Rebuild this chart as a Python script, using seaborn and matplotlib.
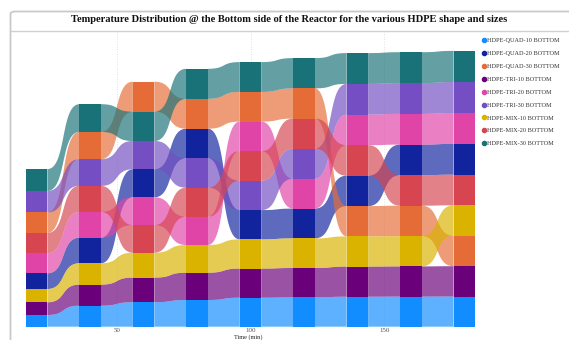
import numpy as np
import matplotlib
matplotlib.use("Agg")
import matplotlib.pyplot as plt
from matplotlib.patches import FancyBboxPatch
from matplotlib.lines import Line2D
import seaborn as sns

# Bottom-side reactor temperature (°C) sampled every 20 minutes
time_min = [20, 40, 60, 80, 100, 120, 140, 160, 180]

series_names = [
    "HDPE-QUAD-10 BOTTOM", "HDPE-QUAD-20 BOTTOM", "HDPE-QUAD-30 BOTTOM",
    "HDPE-TRI-10 BOTTOM", "HDPE-TRI-20 BOTTOM", "HDPE-TRI-30 BOTTOM",
    "HDPE-MIX-10 BOTTOM", "HDPE-MIX-20 BOTTOM", "HDPE-MIX-30 BOTTOM",
]
quad_10 = [117, 210, 245, 267, 290, 293, 300, 301, 302]
quad_20 = [157, 256, 280, 296, 293, 298, 304, 306, 308]
quad_30 = [206, 273, 300, 299, 297, 302, 303, 304, 304]
tri_10 = [127, 211, 246, 273, 291, 294, 301, 302, 303]
tri_20 = [200, 258, 278, 283, 296, 299, 306, 307, 309]
tri_30 = [215, 267, 283, 294, 294, 300, 307, 308, 310]
mix_10 = [133, 213, 249, 277, 292, 296, 302, 303, 305]
mix_20 = [203, 260, 276, 290, 295, 301, 305, 305, 306]
mix_30 = [218, 277, 293, 300, 298, 303, 308, 309, 311]

x_ticks = [50, 100, 150]

colors = ["#118DFF", "#12239E", "#E66C37", "#6B007B", "#E044A7",
          "#744EC2", "#D9B300", "#D64550", "#197278"]

sns.set_theme(style="white")
plt.rcParams["font.family"] = ["Liberation Serif", "DejaVu Serif"]

W, H = 569, 340
fig = plt.figure(figsize=(W / 100, H / 100), dpi=100)


def fx(px):
    return px / W


def fy(py):
    return 1 - py / H


# outer card and title separator
card = FancyBboxPatch((fx(10.5), fy(400)), fx(600), fy(11.5) - fy(400),
                      boxstyle="round,pad=0,rounding_size=0.008",
                      transform=fig.transFigure, facecolor="none",
                      edgecolor="#c9c9c9", linewidth=1.3, zorder=-1)
fig.patches.append(card)
fig.add_artist(Line2D([fx(11), fx(569)], [fy(31), fy(31)],
                      transform=fig.transFigure, color="#d0d0d0", lw=1.0))

fig.text(fx(289), fy(19.5),
         "Temperature Distribution @ the Bottom side of the Reactor for the various HDPE shape and sizes",
         ha="center", va="center", fontsize=7.6, fontweight="bold", color="#111111")

ax = fig.add_axes([fx(26), fy(326.7), fx(475) - fx(26), fy(31) - fy(326.7)])
ax.set_facecolor("none")

values = np.array([quad_10, quad_20, quad_30, tri_10, tri_20,
                   tri_30, mix_10, mix_20, mix_30], dtype=float)
t = np.array(time_min, dtype=float)
n_series, n_time = values.shape

# stack each column in ascending order: smallest at the bottom
bottoms = np.zeros_like(values)
for j in range(n_time):
    order = np.argsort(values[:, j], kind="stable")
    acc = 0.0
    for s in order:
        bottoms[s, j] = acc
        acc += values[s, j]
tops = bottoms + values

col_w = 8.0


def s_curve(x0, x1, y0, y1, k=0.6, n=80):
    u = np.linspace(0, 1, n)[:, None]
    dx = x1 - x0
    p0 = np.array([x0, y0])
    p1 = np.array([x0 + k * dx, y0])
    p2 = np.array([x1 - k * dx, y1])
    p3 = np.array([x1, y1])
    b = (1 - u) ** 3 * p0 + 3 * (1 - u) ** 2 * u * p1 + 3 * (1 - u) * u ** 2 * p2 + u ** 3 * p3
    return b[:, 0], b[:, 1]


# ribbons between consecutive columns
for s in range(n_series):
    for j in range(n_time - 1):
        x0 = t[j] + col_w / 2
        x1 = t[j + 1] - col_w / 2
        xt, yt = s_curve(x0, x1, tops[s, j], tops[s, j + 1])
        xb, yb = s_curve(x0, x1, bottoms[s, j], bottoms[s, j + 1])
        ax.fill(np.concatenate([xt, xb[::-1]]), np.concatenate([yt, yb[::-1]]),
                color=colors[s], alpha=0.68, lw=0, zorder=2)

# solid column segments
for s in range(n_series):
    ax.bar(t, values[s], bottom=bottoms[s], width=col_w, color=colors[s],
           linewidth=0, zorder=3)

ax.set_xlim(16, 184)
ax.set_ylim(0, (326.7 - 31) * 10)
ax.set_xticks(x_ticks)
ax.set_xticklabels([str(v) for v in x_ticks])
ax.set_yticks([])
ax.tick_params(axis="x", length=0, pad=0.8, labelsize=5, labelcolor="#555555")
ax.xaxis.grid(True, linestyle=(0, (1, 2)), color="#d8d8d8", lw=0.6)
ax.set_axisbelow(True)
sns.despine(ax=ax, left=True, bottom=True)

fig.text(fx(248), fy(340), "Time (min)", ha="center", va="bottom",
         fontsize=4.5, color="#222222")

handles = [Line2D([], [], marker="o", linestyle="", color=c, markersize=3.0)
           for c in colors]
fig.legend(handles, series_names, loc="upper left",
           bbox_to_anchor=(fx(481), fy(38)), bbox_transform=fig.transFigure,
           frameon=False, fontsize=4.5, labelspacing=1.2, handletextpad=0.2,
           handlelength=0.8, borderaxespad=0, borderpad=0, labelcolor="#333333")

fig.savefig("out.png", dpi=100)
